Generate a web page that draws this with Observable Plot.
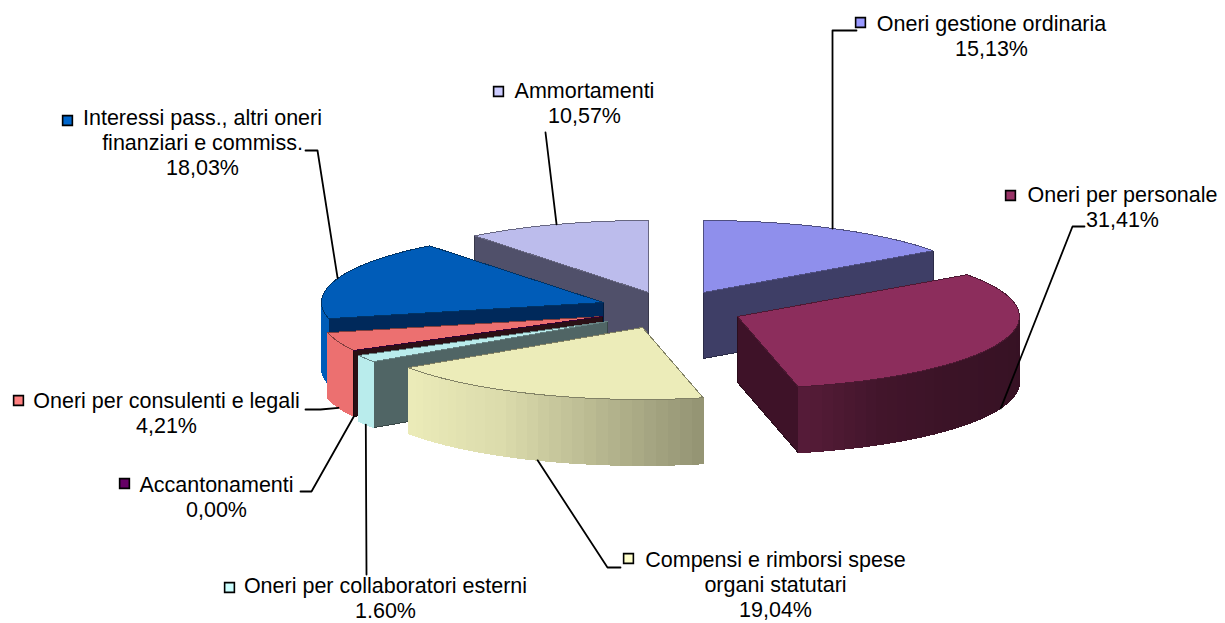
<!DOCTYPE html>
<html lang="it">
<head>
<meta charset="utf-8">
<title>Composizione degli oneri</title>
<script src="https://cdn.jsdelivr.net/npm/d3@7"></script>
<script src="https://cdn.jsdelivr.net/npm/@observablehq/plot@0.6"></script>
<style>
  html, body { margin: 0; padding: 0; background: #fff; }
  svg { display: block; }
</style>
</head>
<body>
<div id="chart"></div>
<script>
// Voci di spesa, in senso orario a partire dalle ore 12
const names = [
  "Oneri gestione ordinaria",
  "Oneri per personale",
  "Compensi e rimborsi spese\norgani statutari",
  "Oneri per collaboratori esterni",
  "Accantonamenti",
  "Oneri per consulenti e legali",
  "Interessi pass., altri oneri\nfinanziari e commiss.",
  "Ammortamenti"
];
const percentLabels = ["15,13%", "31,41%", "19,04%", "1.60%", "0,00%", "4,21%", "18,03%", "10,57%"];
const faceColors = ["#8f8fec", "#8c2d5c", "#ececb9", "#b9ecec", "#5c005c", "#ec7070", "#005cb8", "#bcbcec"];
const keyColors = ["#9999ff", "#993366", "#ffffcc", "#ccffff", "#660066", "#ff8080", "#0066cc", "#ccccff"];

// Ordine di disegno, dalle fette posteriori a quelle anteriori
const paintOrder = [7, 0, 6, 5, 4, 3, 2, 1];

// Proiezione della torta esplosa: centro di ogni fetta, semiassi e spessore
const centers = [[703, 292], [737, 316], [642, 327], [607, 321], [602, 316], [602, 316], [603, 302], [648, 292]];
const radiusX = 282, radiusY = 72, depth = 66;

// Etichette, chiavi colorate e tratti di richiamo
const labelAt = [[991, 25], [1122, 196], [775, 561], [385, 587], [216, 486], [166, 402], [202, 119], [584, 92]];
const keyAt = [[860, 22], [1010, 195], [628, 558], [229, 587], [124, 483], [18, 400], [67, 120], [498, 91]];
const leaderStart = [
  [[856, 30], [832, 30]],
  [[1084, 226], [1072, 226]],
  [[620, 567], [607, 567]],
  [[366, 574]],
  [[300, 491], [311, 491]],
  [[305, 409], [320, 409]],
  [[305, 150], [317, 150]],
  [[545, 132]]
];

const shares = percentLabels.map((s) => parseFloat(s.replace(",", ".")));
const total = d3.sum(shares);
const cumulative = d3.cumsum(shares);
const slices = shares.map((v, i) => ({
  i,
  a0: ((cumulative[i] - v) / total) * 360,
  a1: (cumulative[i] / total) * 360
}));

const rad = (a) => (a * Math.PI) / 180;
const rim = (i, a, drop = 0) => [
  centers[i][0] + radiusX * Math.sin(rad(a)),
  centers[i][1] - radiusY * Math.cos(rad(a)) + drop
];

// Luminosità del bordo esterno in funzione dell'angolo
const shade = d3.scaleLinear()
  .domain([90, 132, 150, 167.5, 188, 210, 236, 270])
  .range([0.38, 0.42, 0.47, 0.62, 0.77, 0.93, 1, 1])
  .clamp(true);
const dim = (color, k) => {
  const c = d3.rgb(color);
  return d3.rgb(c.r * k, c.g * k, c.b * k).formatRgb();
};
const cutColors = ["#3e3e66", "#3e1228", "#3e3e30", "#506565", "#2a1015", "#3a1a1e", "#00295b", "#50506a"];

const polygons = [];
const addPolygon = (pts, fill, stroke) => {
  const id = polygons.length ? polygons[polygons.length - 1].id + 1 : 0;
  for (const [x, y] of pts) polygons.push({ id, x, y, fill, stroke });
};

for (const o of paintOrder) {
  const { a0, a1, i } = slices[o];
  const [cx, cy] = centers[i];
  const cut = cutColors[i];
  // pareti radiali rivolte verso chi guarda
  if (Math.cos(rad(a0 - 90)) < 0) {
    const [x, y] = rim(i, a0);
    addPolygon([[cx, cy], [x, y], [x, y + depth], [cx, cy + depth]], cut, dim(cut, 0.7));
  }
  if (Math.cos(rad(a1 + 90)) < 0) {
    const [x, y] = rim(i, a1);
    addPolygon([[cx, cy], [x, y], [x, y + depth], [cx, cy + depth]], cut, dim(cut, 0.7));
  }
  // bordo esterno a fasce
  const from = Math.max(a0, 90), to = Math.min(a1, 270);
  if (to > from) {
    const steps = Math.max(1, Math.ceil((to - from) / 2.5));
    for (let s = 0; s < steps; ++s) {
      const u = from + ((to - from) * s) / steps;
      const v = from + ((to - from) * (s + 1)) / steps;
      const color = dim(faceColors[i], shade((u + v) / 2));
      addPolygon([rim(i, u), rim(i, v), rim(i, v, depth), rim(i, u, depth)], color, color);
    }
  }
  // faccia superiore
  const arc = d3.range(0, 41).map((k) => rim(i, a0 + ((a1 - a0) * k) / 40));
  addPolygon([[cx, cy], ...arc], faceColors[i], dim(faceColors[i], 0.55));
}

const leaders = slices.flatMap(({ i, a0, a1 }) => {
  const mid = (a0 + a1) / 2;
  const end = rim(i, mid, mid > 90 && mid < 270 ? depth : 0);
  return [...leaderStart[i], end].map(([x, y]) => ({ i, x, y }));
});

const labels = names.map((name, i) => ({
  x: labelAt[i][0],
  y: labelAt[i][1],
  text: `${name}\n${percentLabels[i]}`
}));
const keys = keyColors.map((fill, i) => ({ x: keyAt[i][0], y: keyAt[i][1], fill }));

const chart = Plot.plot({
  width: 1225,
  height: 623,
  margin: 0,
  x: { domain: [0, 1225], range: [0, 1225], axis: null },
  y: { domain: [0, 623], range: [0, 623], axis: null },
  color: { type: "identity" },
  style: { background: "#fff", overflow: "visible" },
  marks: [
    Plot.line(polygons, {
      x: "x", y: "y", z: "id",
      fill: "fill", stroke: "stroke",
      curve: "linear-closed",
      strokeWidth: 1,
      shapeRendering: "crispEdges"
    }),
    Plot.line(leaders, {
      x: "x", y: "y", z: "i",
      stroke: "#000",
      strokeWidth: 1.8,
      curve: "linear"
    }),
    Plot.dot(keys, {
      x: "x", y: "y",
      symbol: "square",
      r: 5.5,
      fill: "fill",
      stroke: "#000",
      strokeWidth: 1.6
    }),
    Plot.text(labels, {
      x: "x", y: "y",
      text: "text",
      fontFamily: "Liberation Sans, Arial, sans-serif",
      fontSize: 21.5,
      lineHeight: 1.16,
      lineAnchor: "top",
      dy: -12,
      textAnchor: "middle",
      fill: "#000"
    })
  ]
});
document.getElementById("chart").append(chart);
</script>
</body>
</html>
